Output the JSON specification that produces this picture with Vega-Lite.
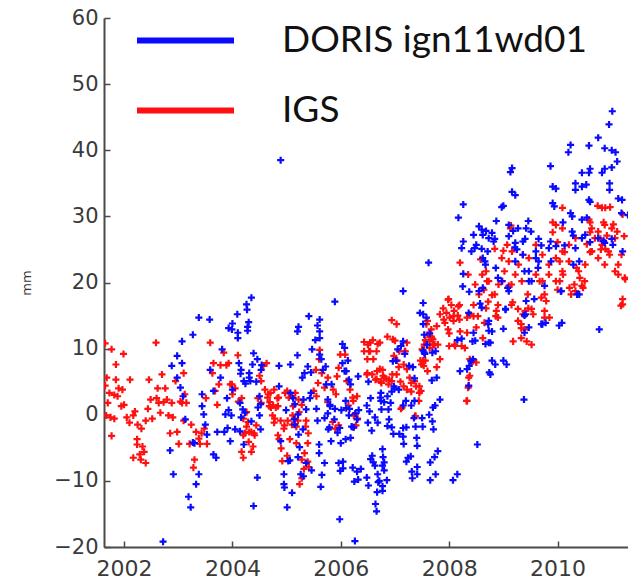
{
  "$schema": "https://vega.github.io/schema/vega-lite/v6.json",
  "width": 524,
  "height": 529,
  "autosize": {"type": "none"},
  "padding": {"left": 104, "top": 18, "right": 0, "bottom": 33},
  "background": "white",
  "config": {
    "view": {"stroke": null},
    "axis": {"grid": false, "domainColor": "#4a4a4a", "domainWidth": 2, "tickColor": "#4a4a4a", "tickWidth": 1.5, "tickSize": -6, "labelFont": "DejaVu Sans", "labelColor": "#3a3a3a"}
  },
  "datasets": {
    "igs": [
      {"year":2001.65,"mm":10.8},{"year":2001.77,"mm":9.9},{"year":2001.99,"mm":9.2},{"year":2001.85,"mm":7.6},{"year":2001.68,"mm":5.6},{"year":2001.85,"mm":5.3},{"year":2002.11,"mm":5.3},{"year":2001.65,"mm":4.4},{"year":2001.9,"mm":4.0},{"year":2001.97,"mm":3.8},{"year":2001.73,"mm":3.3},{"year":2001.82,"mm":3.0},{"year":2001.88,"mm":2.8},{"year":2001.7,"mm":1.8},{"year":2001.67,"mm":-0.1},{"year":2001.75,"mm":-0.4},{"year":2001.82,"mm":-0.6},{"year":2001.77,"mm":-3.2},{"year":2001.95,"mm":1.3},{"year":2002.0,"mm":1.5},
      {"year":2002.05,"mm":-0.4},{"year":2002.1,"mm":-1.2},{"year":2002.17,"mm":-0.1},{"year":2002.2,"mm":0.5},{"year":2002.25,"mm":-1.5},{"year":2002.24,"mm":-3.7},{"year":2002.24,"mm":-4.5},{"year":2002.29,"mm":-6.0},{"year":2002.17,"mm":-6.5},{"year":2002.31,"mm":-6.8},{"year":2002.4,"mm":-7.3},{"year":2002.37,"mm":-5.6},{"year":2002.34,"mm":-4.8},{"year":2002.32,"mm":-2.1},{"year":2002.4,"mm":-0.9},{"year":2002.44,"mm":0.9},{"year":2002.46,"mm":5.3},{"year":2002.49,"mm":2.3},{"year":2002.52,"mm":-0.6},{"year":2002.59,"mm":10.9},
      {"year":2002.6,"mm":2.5},{"year":2002.62,"mm":4.0},{"year":2002.64,"mm":1.8},{"year":2002.67,"mm":0.3},{"year":2002.7,"mm":6.1},{"year":2002.73,"mm":1.9},{"year":2002.76,"mm":4.0},{"year":2002.79,"mm":2.3},{"year":2002.82,"mm":-0.1},{"year":2002.85,"mm":-2.8},{"year":2002.88,"mm":1.8},{"year":2002.9,"mm":-0.4},{"year":2002.95,"mm":5.1},{"year":2002.98,"mm":-2.6},{"year":2003.01,"mm":-4.4},{"year":2003.04,"mm":2.0},{"year":2003.07,"mm":1.8},{"year":2003.1,"mm":-0.9},{"year":2003.1,"mm":6.3},{"year":2003.12,"mm":3.1},
      {"year":2003.15,"mm":1.8},{"year":2003.21,"mm":-4.4},{"year":2003.24,"mm":-1.5},{"year":2003.28,"mm":-8.0},{"year":2003.3,"mm":-6.8},{"year":2003.33,"mm":-2.6},{"year":2003.38,"mm":-3.6},{"year":2003.4,"mm":-4.4},{"year":2003.43,"mm":-2.8},{"year":2003.48,"mm":-2.1},{"year":2003.51,"mm":2.5},{"year":2003.53,"mm":-4.4},{"year":2003.59,"mm":10.9},{"year":2003.63,"mm":6.3},{"year":2003.65,"mm":7.8},{"year":2003.68,"mm":3.6},{"year":2003.72,"mm":1.5},{"year":2003.75,"mm":4.6},{"year":2003.78,"mm":7.5},{"year":2003.84,"mm":9.4},
      {"year":2003.89,"mm":7.5},{"year":2003.93,"mm":7.8},{"year":2003.96,"mm":4.6},{"year":2003.99,"mm":4.6},{"year":2004.0,"mm":3.1},{"year":2004.05,"mm":4.0},{"year":2004.1,"mm":9.0},{"year":2004.11,"mm":2.0},{"year":2004.17,"mm":2.5},{"year":2004.2,"mm":-6.5},{"year":2004.23,"mm":-2.8},{"year":2004.26,"mm":-1.8},{"year":2004.3,"mm":-4.1},{"year":2004.31,"mm":-2.6},{"year":2004.35,"mm":-5.6},{"year":2004.38,"mm":-4.8},{"year":2004.4,"mm":-2.8},{"year":2004.47,"mm":2.5},{"year":2004.53,"mm":1.8},{"year":2004.57,"mm":7.4},
      {"year":2004.63,"mm":7.8},{"year":2004.6,"mm":3.8},{"year":2004.66,"mm":3.1},{"year":2004.68,"mm":1.3},{"year":2004.71,"mm":1.1},{"year":2004.74,"mm":-0.1},{"year":2004.77,"mm":-1.2},{"year":2004.8,"mm":1.1},{"year":2004.83,"mm":2.5},{"year":2004.86,"mm":-3.7},{"year":2004.89,"mm":-0.9},{"year":2004.92,"mm":-7.0},{"year":2004.95,"mm":-2.1},{"year":2004.97,"mm":3.3},{"year":2005.01,"mm":-6.2},{"year":2005.06,"mm":-3.7},{"year":2005.1,"mm":-1.5},{"year":2005.12,"mm":1.3},{"year":2005.15,"mm":-0.6},{"year":2005.18,"mm":-1.8},
      {"year":2005.21,"mm":-0.9},{"year":2005.24,"mm":-10.5},{"year":2005.28,"mm":-6.8},{"year":2005.32,"mm":-8.2},{"year":2005.35,"mm":-1.8},{"year":2005.4,"mm":-2.8},{"year":2004.5,"mm":5.9},{"year":2004.53,"mm":5.1},{"year":2005.61,"mm":9.8},{"year":2005.6,"mm":8.4},{"year":2005.99,"mm":9.1},{"year":2006.08,"mm":9.1},{"year":2005.54,"mm":6.8},{"year":2005.65,"mm":6.3},{"year":2005.76,"mm":5.6},{"year":2005.96,"mm":7.1},{"year":2005.93,"mm":5.8},{"year":2006.11,"mm":5.1},{"year":2006.17,"mm":3.8},{"year":2006.22,"mm":2.6},
      {"year":2006.3,"mm":2.8},{"year":2005.58,"mm":4.8},{"year":2005.7,"mm":4.1},{"year":2005.86,"mm":3.8},{"year":2005.91,"mm":3.1},{"year":2005.5,"mm":3.6},{"year":2005.55,"mm":2.8},{"year":2004.77,"mm":3.8},{"year":2004.65,"mm":2.6},{"year":2004.7,"mm":3.3},{"year":2004.85,"mm":2.6},{"year":2005.01,"mm":3.6},{"year":2005.04,"mm":2.6},{"year":2005.1,"mm":2.8},{"year":2005.16,"mm":3.3},{"year":2005.22,"mm":2.3},{"year":2005.28,"mm":1.5},{"year":2004.17,"mm":-5.6},{"year":2004.41,"mm":-3.1},{"year":2004.35,"mm":-2.6},
      {"year":2004.44,"mm":-1.6},{"year":2004.2,"mm":-0.6},{"year":2004.26,"mm":0.4},{"year":2004.29,"mm":-1.1},{"year":2004.78,"mm":-0.6},{"year":2004.84,"mm":-3.1},{"year":2004.9,"mm":-5.1},{"year":2004.69,"mm":1.9},{"year":2004.75,"mm":1.4},{"year":2004.84,"mm":1.3},{"year":2004.96,"mm":-1.6},{"year":2005.02,"mm":-0.9},{"year":2005.11,"mm":-0.1},{"year":2005.18,"mm":-4.3},{"year":2005.23,"mm":0.4},{"year":2005.36,"mm":-0.9},{"year":2005.39,"mm":-4.3},{"year":2005.33,"mm":-5.8},{"year":2005.39,"mm":-7.1},{"year":2005.41,"mm":-7.9},
      {"year":2005.28,"mm":-9.6},{"year":2005.76,"mm":1.9},{"year":2005.85,"mm":-1.1},{"year":2005.9,"mm":-2.1},{"year":2005.96,"mm":-1.6},{"year":2006.14,"mm":1.4},{"year":2006.24,"mm":-0.1},{"year":2006.31,"mm":-0.6},{"year":2006.28,"mm":-1.6},{"year":2004.2,"mm":-3.1},{"year":2006.94,"mm":14.3},{"year":2006.54,"mm":10.9},{"year":2006.54,"mm":9.6},{"year":2006.66,"mm":9.6},{"year":2006.72,"mm":10.9},{"year":2006.6,"mm":8.4},{"year":2006.48,"mm":6.1},{"year":2006.72,"mm":6.9},{"year":2006.78,"mm":5.9},{"year":2006.66,"mm":5.4},
      {"year":2006.84,"mm":5.4},{"year":2006.94,"mm":5.1},{"year":2006.75,"mm":4.8},{"year":2006.88,"mm":4.6},{"year":2006.96,"mm":11.4},{"year":2007.08,"mm":9.6},{"year":2007.18,"mm":9.6},{"year":2007.16,"mm":7.6},{"year":2007.22,"mm":6.9},{"year":2007.03,"mm":6.1},{"year":2007.27,"mm":5.6},{"year":2007.36,"mm":5.1},{"year":2007.16,"mm":4.3},{"year":2007.45,"mm":4.3},{"year":2007.3,"mm":3.5},{"year":2007.45,"mm":3.3},{"year":2007.37,"mm":-0.2},{"year":2007.11,"mm":0.9},{"year":2007.6,"mm":14.2},{"year":2007.6,"mm":12.1},
      {"year":2007.67,"mm":11.8},{"year":2007.56,"mm":11.3},{"year":2007.52,"mm":8.2},{"year":2007.49,"mm":7.6},{"year":2007.64,"mm":10.1},{"year":2007.72,"mm":10.6},{"year":2007.83,"mm":15.2},{"year":2007.99,"mm":17.5},{"year":2007.9,"mm":14.4},{"year":2008.01,"mm":14.7},{"year":2008.08,"mm":14.9},{"year":2008.0,"mm":12.3},{"year":2008.11,"mm":10.4},{"year":2008.29,"mm":10.1},{"year":2008.2,"mm":12.6},{"year":2008.17,"mm":16.4},{"year":2008.45,"mm":16.6},{"year":2008.39,"mm":15.1},{"year":2008.53,"mm":14.9},{"year":2008.55,"mm":18.2},
      {"year":2008.68,"mm":16.1},{"year":2008.62,"mm":11.6},{"year":2008.36,"mm":5.6},{"year":2008.36,"mm":4.3},{"year":2008.33,"mm":2.1},{"year":2008.42,"mm":8.1},{"year":2008.86,"mm":14.9},{"year":2008.9,"mm":16.6},{"year":2008.84,"mm":18.2},{"year":2009.15,"mm":16.6},{"year":2009.18,"mm":11.1},{"year":2009.27,"mm":14.2},{"year":2009.33,"mm":13.1},{"year":2009.4,"mm":15.7},{"year":2009.43,"mm":11.1},{"year":2009.46,"mm":16.1},{"year":2009.76,"mm":14.7},{"year":2009.7,"mm":17.7},{"year":2011.2,"mm":16.7},{"year":2010.33,"mm":18.7},
      {"year":2008.2,"mm":23.0},{"year":2008.58,"mm":23.5},{"year":2008.68,"mm":21.7},{"year":2008.7,"mm":20.2},{"year":2008.64,"mm":18.9},{"year":2008.79,"mm":18.1},{"year":2008.72,"mm":17.1},{"year":2007.98,"mm":17.4},{"year":2008.04,"mm":16.6},{"year":2008.19,"mm":16.6},{"year":2007.89,"mm":16.1},{"year":2007.95,"mm":15.4},{"year":2008.09,"mm":15.7},{"year":2008.16,"mm":15.0},{"year":2008.08,"mm":14.2},{"year":2008.19,"mm":14.4},{"year":2007.92,"mm":13.9},{"year":2007.77,"mm":13.4},{"year":2007.98,"mm":12.9},{"year":2008.33,"mm":14.7},
      {"year":2008.45,"mm":14.9},{"year":2008.5,"mm":13.2},{"year":2008.65,"mm":13.9},{"year":2008.33,"mm":12.4},{"year":2007.03,"mm":13.7},{"year":2007.58,"mm":13.7},{"year":2007.67,"mm":12.9},{"year":2007.7,"mm":11.4},{"year":2007.7,"mm":10.6},{"year":2007.54,"mm":10.6},{"year":2007.79,"mm":10.6},{"year":2007.0,"mm":11.2},{"year":2006.68,"mm":10.7},{"year":2006.5,"mm":10.6},{"year":2006.43,"mm":11.0},{"year":2006.59,"mm":11.3},{"year":2006.86,"mm":11.8},{"year":2006.43,"mm":9.6},{"year":2006.52,"mm":9.6},{"year":2006.49,"mm":8.4},
      {"year":2006.49,"mm":6.3},{"year":2006.58,"mm":6.1},{"year":2006.67,"mm":6.6},{"year":2006.77,"mm":6.8},{"year":2006.8,"mm":5.6},{"year":2006.89,"mm":5.3},{"year":2006.95,"mm":6.1},{"year":2006.74,"mm":5.0},{"year":2006.64,"mm":5.3},{"year":2006.98,"mm":8.9},{"year":2007.04,"mm":8.2},{"year":2007.07,"mm":7.2},{"year":2007.1,"mm":5.0},{"year":2007.19,"mm":9.6},{"year":2007.22,"mm":10.9},{"year":2007.5,"mm":9.9},{"year":2007.47,"mm":8.2},{"year":2007.53,"mm":7.4},{"year":2007.6,"mm":6.6},{"year":2007.56,"mm":8.2},
      {"year":2007.68,"mm":11.6},{"year":2007.64,"mm":11.1},{"year":2007.73,"mm":10.6},{"year":2007.83,"mm":8.4},{"year":2007.77,"mm":7.2},{"year":2007.3,"mm":4.8},{"year":2007.39,"mm":4.3},{"year":2007.48,"mm":3.6},{"year":2007.22,"mm":3.8},{"year":2007.44,"mm":2.1},{"year":2007.13,"mm":1.1},{"year":2007.38,"mm":-0.2},{"year":2008.0,"mm":10.4},{"year":2008.1,"mm":10.6},{"year":2008.23,"mm":10.4},{"year":2008.38,"mm":8.4},{"year":2008.44,"mm":8.1},{"year":2008.5,"mm":7.9},{"year":2008.38,"mm":5.9},{"year":2008.35,"mm":4.1},
      {"year":2008.32,"mm":2.1},{"year":2006.23,"mm":2.1},{"year":2006.26,"mm":0.1},{"year":2006.23,"mm":-1.9},{"year":2010.09,"mm":31.3},{"year":2010.82,"mm":31.3},{"year":2010.97,"mm":31.4},{"year":2011.2,"mm":30.3},{"year":2010.09,"mm":28.2},{"year":2009.97,"mm":28.7},{"year":2010.58,"mm":29.5},{"year":2010.63,"mm":28.2},{"year":2010.75,"mm":27.7},{"year":2010.87,"mm":28.7},{"year":2011.0,"mm":28.2},{"year":2011.1,"mm":27.7},{"year":2011.23,"mm":27.0},{"year":2010.69,"mm":26.7},{"year":2010.82,"mm":25.7},{"year":2010.94,"mm":24.7},
      {"year":2011.06,"mm":26.7},{"year":2011.18,"mm":24.2},{"year":2010.75,"mm":23.7},{"year":2010.87,"mm":22.7},{"year":2011.06,"mm":21.7},{"year":2011.24,"mm":20.7},{"year":2009.13,"mm":28.2},{"year":2009.07,"mm":25.7},{"year":2009.16,"mm":24.7},{"year":2009.28,"mm":22.7},{"year":2009.36,"mm":24.2},{"year":2009.1,"mm":23.2},{"year":2008.97,"mm":23.7},{"year":2009.47,"mm":23.7},{"year":2009.6,"mm":25.7},{"year":2009.72,"mm":24.2},{"year":2009.84,"mm":22.7},{"year":2009.97,"mm":23.7},{"year":2010.09,"mm":24.7},{"year":2010.21,"mm":25.7},
      {"year":2010.33,"mm":26.7},{"year":2010.21,"mm":23.2},{"year":2010.39,"mm":21.7},{"year":2010.09,"mm":21.7},{"year":2009.97,"mm":20.2},{"year":2010.51,"mm":22.7},{"year":2010.63,"mm":24.7},{"year":2009.22,"mm":21.2},{"year":2009.34,"mm":20.2},{"year":2009.6,"mm":21.2},{"year":2009.72,"mm":20.2},{"year":2009.84,"mm":21.2},{"year":2008.61,"mm":21.2},{"year":2008.73,"mm":20.2},{"year":2008.91,"mm":19.7},{"year":2008.35,"mm":21.2},{"year":2008.48,"mm":19.7},{"year":2009.1,"mm":19.5},{"year":2010.45,"mm":19.5},{"year":2009.02,"mm":21.7},
      {"year":2008.98,"mm":20.2},{"year":2008.87,"mm":15.7},{"year":2008.9,"mm":14.7},{"year":2009.15,"mm":19.7},{"year":2009.17,"mm":17.0},{"year":2009.27,"mm":16.0},{"year":2009.36,"mm":15.2},{"year":2009.33,"mm":13.7},{"year":2009.39,"mm":12.9},{"year":2009.33,"mm":11.6},{"year":2009.52,"mm":10.6},{"year":2009.52,"mm":16.0},{"year":2009.55,"mm":15.2},{"year":2009.45,"mm":18.2},{"year":2009.67,"mm":20.2},{"year":2009.76,"mm":18.2},{"year":2009.79,"mm":17.2},{"year":2009.85,"mm":14.7},{"year":2009.76,"mm":15.7},{"year":2010.0,"mm":18.9},
      {"year":2010.04,"mm":20.2},{"year":2010.1,"mm":21.2},{"year":2010.22,"mm":19.2},{"year":2010.25,"mm":18.2},{"year":2010.31,"mm":19.7},{"year":2010.41,"mm":20.7},{"year":2010.47,"mm":19.2},{"year":2010.5,"mm":20.2},{"year":2010.35,"mm":22.2},{"year":2010.04,"mm":23.2},{"year":2010.63,"mm":24.7},{"year":2010.8,"mm":25.0},{"year":2010.96,"mm":24.2},{"year":2011.12,"mm":22.7},{"year":2011.12,"mm":21.2},{"year":2011.2,"mm":17.5},{"year":2011.17,"mm":16.5},{"year":2011.25,"mm":20.5},{"year":2009.14,"mm":28.6},{"year":2009.91,"mm":29.1},
      {"year":2010.6,"mm":29.1},{"year":2010.85,"mm":29.1},{"year":2011.03,"mm":28.8},{"year":2009.91,"mm":27.6},{"year":2010.6,"mm":27.6},{"year":2010.79,"mm":26.6},{"year":2010.91,"mm":27.1},{"year":2008.84,"mm":25.1},{"year":2009.0,"mm":24.8},{"year":2010.0,"mm":26.1},{"year":2010.13,"mm":24.6},{"year":2010.54,"mm":25.8},{"year":2010.6,"mm":24.6},{"year":2010.88,"mm":25.1},{"year":2010.74,"mm":31.6},{"year":2010.88,"mm":31.3}
    ],
    "doris": [
      {"year":2002.72,"mm":-19.2},{"year":2002.85,"mm":-5.4},{"year":2002.91,"mm":-9.0},{"year":2002.88,"mm":7.4},{"year":2002.98,"mm":8.9},{"year":2003.07,"mm":11.1},{"year":2003.07,"mm":7.8},{"year":2002.98,"mm":5.6},{"year":2003.04,"mm":4.1},{"year":2003.09,"mm":2.8},{"year":2003.13,"mm":-0.7},{"year":2003.19,"mm":-12.4},{"year":2003.23,"mm":-14.0},{"year":2003.27,"mm":12.1},{"year":2003.27,"mm":-4.2},{"year":2003.3,"mm":-4.3},{"year":2003.33,"mm":-10.5},{"year":2003.38,"mm":-9.0},{"year":2003.38,"mm":14.7},{"year":2003.44,"mm":3.1},
      {"year":2003.44,"mm":1.3},{"year":2003.47,"mm":0.05},{"year":2003.5,"mm":-1.5},{"year":2003.53,"mm":-3.0},{"year":2003.58,"mm":14.4},{"year":2003.59,"mm":6.8},{"year":2003.65,"mm":3.6},{"year":2003.65,"mm":-6.0},{"year":2003.7,"mm":-6.5},{"year":2003.72,"mm":-2.6},{"year":2003.78,"mm":5.6},{"year":2003.81,"mm":9.9},{"year":2003.85,"mm":-2.6},{"year":2003.87,"mm":0.05},{"year":2003.9,"mm":2.5},{"year":2003.93,"mm":0.7},{"year":2003.93,"mm":13.1},{"year":2003.99,"mm":12.9},{"year":2003.96,"mm":-4.0},{"year":2004.0,"mm":3.8},
      {"year":2004.09,"mm":15.2},{"year":2004.1,"mm":11.6},{"year":2004.05,"mm":-2.2},{"year":2004.15,"mm":6.2},{"year":2004.16,"mm":6.8},{"year":2004.21,"mm":-4.5},{"year":2004.23,"mm":0.3},{"year":2004.24,"mm":4.7},{"year":2004.27,"mm":15.9},{"year":2004.28,"mm":12.7},{"year":2004.3,"mm":14.0},{"year":2004.31,"mm":5.6},{"year":2004.35,"mm":17.7},{"year":2004.35,"mm":-1.0},{"year":2004.39,"mm":-13.8},{"year":2004.46,"mm":8.4},{"year":2004.46,"mm":-9.5},{"year":2004.44,"mm":5.0},{"year":2004.52,"mm":1.6},{"year":2004.52,"mm":-2.2},
      {"year":2004.54,"mm":7.5},{"year":2004.86,"mm":7.4},{"year":2004.89,"mm":-4.0},{"year":2004.95,"mm":-9.0},{"year":2004.95,"mm":-10.5},{"year":2004.96,"mm":-11.0},{"year":2005.01,"mm":-14.0},{"year":2005.03,"mm":-7.0},{"year":2005.1,"mm":-11.8},{"year":2005.12,"mm":2.5},{"year":2005.14,"mm":-0.7},{"year":2005.2,"mm":12.6},{"year":2005.2,"mm":9.0},{"year":2005.21,"mm":0.05},{"year":2005.24,"mm":-4.9},{"year":2005.26,"mm":-9.0},{"year":2005.29,"mm":5.6},{"year":2005.3,"mm":-2.2},{"year":2005.41,"mm":14.9},{"year":2005.43,"mm":2.5},
      {"year":2005.45,"mm":6.4},{"year":2005.47,"mm":9.9},{"year":2004.89,"mm":38.5},{"year":2005.89,"mm":17.1},{"year":2005.61,"mm":14.4},{"year":2005.61,"mm":12.6},{"year":2005.61,"mm":11.6},{"year":2005.64,"mm":8.4},{"year":2005.67,"mm":6.8},{"year":2005.73,"mm":4.6},{"year":2005.8,"mm":1.3},{"year":2005.88,"mm":-0.7},{"year":2005.77,"mm":-2.2},{"year":2005.94,"mm":-2.7},{"year":2005.82,"mm":-4.0},{"year":2006.0,"mm":-4.3},{"year":2006.09,"mm":-3.7},{"year":2006.18,"mm":-3.5},{"year":2005.57,"mm":-0.9},{"year":2005.6,"mm":-4.5},
      {"year":2005.7,"mm":-7.3},{"year":2005.65,"mm":-9.1},{"year":2005.63,"mm":-10.9},{"year":2005.96,"mm":-7.3},{"year":2005.99,"mm":-8.5},{"year":2005.98,"mm":-15.8},{"year":2006.26,"mm":-19.1},{"year":2006.07,"mm":10.1},{"year":2006.13,"mm":8.2},{"year":2006.07,"mm":6.6},{"year":2006.15,"mm":5.3},{"year":2006.18,"mm":4.6},{"year":2006.15,"mm":-0.1},{"year":2006.27,"mm":0.2},{"year":2006.3,"mm":-0.7},{"year":2006.24,"mm":-1.9},{"year":2006.3,"mm":-8.6},{"year":2006.25,"mm":-10.1},{"year":2006.51,"mm":5.0},{"year":2006.48,"mm":1.4},
      {"year":2006.57,"mm":-2.4},{"year":2006.63,"mm":-0.4},{"year":2006.6,"mm":-7.2},{"year":2006.63,"mm":-7.7},{"year":2006.51,"mm":-10.7},{"year":2006.69,"mm":-10.2},{"year":2006.67,"mm":-11.7},{"year":2006.77,"mm":-11.5},{"year":2006.78,"mm":-6.4},{"year":2006.8,"mm":-8.4},{"year":2006.85,"mm":-9.9},{"year":2006.66,"mm":-14.6},{"year":2006.73,"mm":2.6},{"year":2006.75,"mm":0.8},{"year":2006.88,"mm":0.8},{"year":2006.8,"mm":1.9},{"year":2006.94,"mm":3.5},{"year":2006.96,"mm":8.1},{"year":2006.99,"mm":4.0},{"year":2007.15,"mm":18.7},
      {"year":2007.15,"mm":11.1},{"year":2007.18,"mm":9.2},{"year":2006.94,"mm":-1.9},{"year":2006.97,"mm":-2.9},{"year":2007.08,"mm":-2.9},{"year":2007.16,"mm":-4.4},{"year":2007.21,"mm":-1.9},{"year":2007.26,"mm":7.4},{"year":2007.15,"mm":1.4},{"year":2007.3,"mm":1.4},{"year":2007.21,"mm":-7.1},{"year":2007.29,"mm":-6.3},{"year":2007.31,"mm":-8.6},{"year":2007.32,"mm":-9.6},{"year":2007.41,"mm":-4.7},{"year":2007.46,"mm":15.4},{"year":2007.52,"mm":9.7},{"year":2007.38,"mm":-1.8},{"year":2007.51,"mm":-1.8},{"year":2007.54,"mm":12.1},
      {"year":2007.52,"mm":16.9},{"year":2007.63,"mm":0.0},{"year":2007.65,"mm":-7.2},{"year":2007.65,"mm":-9.9},{"year":2007.71,"mm":-2.2},{"year":2007.74,"mm":1.4},{"year":2007.73,"mm":-6.4},{"year":2007.68,"mm":5.2},{"year":2007.55,"mm":9.2},{"year":2007.59,"mm":10.6},{"year":2008.07,"mm":-9.9},{"year":2008.2,"mm":6.6},{"year":2008.36,"mm":15.4},{"year":2008.45,"mm":12.4},{"year":2008.33,"mm":6.9},{"year":2008.36,"mm":4.4},{"year":2008.44,"mm":8.4},{"year":2008.52,"mm":-4.5},{"year":2008.55,"mm":18.7},{"year":2008.73,"mm":14.2},
      {"year":2008.73,"mm":10.9},{"year":2008.76,"mm":6.1},{"year":2008.85,"mm":7.6},{"year":2008.79,"mm":12.6},{"year":2009.06,"mm":7.6},{"year":2009.04,"mm":15.9},{"year":2009.1,"mm":18.7},{"year":2009.38,"mm":2.3},{"year":2009.47,"mm":13.2},{"year":2009.41,"mm":15.2},{"year":2009.57,"mm":17.5},{"year":2009.72,"mm":13.7},{"year":2009.78,"mm":13.9},{"year":2010.08,"mm":13.9},{"year":2010.07,"mm":18.7},{"year":2010.4,"mm":18.2},{"year":2010.77,"mm":12.9},{"year":2011.01,"mm":45.9},{"year":2010.95,"mm":43.9},{"year":2010.24,"mm":40.8},
      {"year":2010.2,"mm":39.7},{"year":2010.58,"mm":40.7},{"year":2010.75,"mm":41.9},{"year":2010.87,"mm":40.3},{"year":2011.0,"mm":40.0},{"year":2011.07,"mm":39.7},{"year":2011.1,"mm":38.3},{"year":2009.87,"mm":37.6},{"year":2009.16,"mm":37.3},{"year":2009.13,"mm":36.7},{"year":2009.16,"mm":33.7},{"year":2009.22,"mm":33.2},{"year":2009.91,"mm":34.5},{"year":2009.97,"mm":34.2},{"year":2010.33,"mm":35.0},{"year":2010.45,"mm":36.6},{"year":2010.58,"mm":36.6},{"year":2010.82,"mm":36.6},{"year":2010.87,"mm":37.2},{"year":2010.96,"mm":35.0},
      {"year":2010.33,"mm":34.0},{"year":2010.45,"mm":34.5},{"year":2010.58,"mm":32.5},{"year":2010.96,"mm":34.0},{"year":2011.12,"mm":32.7},{"year":2009.91,"mm":32.0},{"year":2009.94,"mm":31.5},{"year":2010.27,"mm":30.0},{"year":2010.45,"mm":29.5},{"year":2008.26,"mm":31.8},{"year":2008.17,"mm":29.8},{"year":2008.55,"mm":28.5},{"year":2008.6,"mm":28.0},{"year":2008.97,"mm":31.4},{"year":2009.1,"mm":28.7},{"year":2009.27,"mm":28.2},{"year":2009.42,"mm":28.2},{"year":2009.51,"mm":27.7},{"year":2008.79,"mm":27.5},{"year":2008.82,"mm":26.2},
      {"year":2009.1,"mm":27.0},{"year":2008.5,"mm":25.7},{"year":2008.6,"mm":25.1},{"year":2008.26,"mm":26.2},{"year":2008.23,"mm":25.2},{"year":2008.41,"mm":24.7},{"year":2008.73,"mm":26.7},{"year":2008.71,"mm":24.7},{"year":2009.22,"mm":26.0},{"year":2009.36,"mm":26.2},{"year":2009.25,"mm":25.0},{"year":2009.6,"mm":24.7},{"year":2009.84,"mm":25.2},{"year":2009.87,"mm":26.2},{"year":2009.97,"mm":25.5},{"year":2010.27,"mm":27.7},{"year":2010.45,"mm":26.7},{"year":2010.33,"mm":25.2},{"year":2010.75,"mm":26.7},{"year":2010.87,"mm":26.0},
      {"year":2011.02,"mm":25.7},{"year":2011.2,"mm":24.7},{"year":2007.62,"mm":23.0},{"year":2008.26,"mm":21.3},{"year":2008.67,"mm":22.7},{"year":2009.22,"mm":23.2},{"year":2009.65,"mm":23.2},{"year":2009.47,"mm":21.7},{"year":2010.4,"mm":23.2},{"year":2008.86,"mm":22.2},{"year":2008.97,"mm":20.2},{"year":2009.47,"mm":20.2},{"year":2009.0,"mm":31.6},{"year":2010.6,"mm":37.2},{"year":2011.0,"mm":37.4},{"year":2010.53,"mm":34.8},{"year":2010.6,"mm":32.2},{"year":2011.19,"mm":32.5},{"year":2008.68,"mm":27.8},{"year":2008.87,"mm":29.3},
      {"year":2009.18,"mm":27.8},{"year":2009.46,"mm":29.3},{"year":2009.4,"mm":26.6},{"year":2010.24,"mm":30.5},{"year":2010.54,"mm":29.8},{"year":2010.1,"mm":29.1},{"year":2011.18,"mm":30.5},{"year":2011.3,"mm":30.2},{"year":2008.84,"mm":26.6},{"year":2009.65,"mm":26.6},{"year":2010.29,"mm":27.1},{"year":2010.51,"mm":27.2},{"year":2010.6,"mm":26.1},{"year":2010.85,"mm":26.3},{"year":2011.0,"mm":26.6},{"year":2009.21,"mm":25.3},{"year":2009.7,"mm":25.6},{"year":2010.13,"mm":25.6},{"year":2009.36,"mm":24.2},{"year":2009.6,"mm":23.7},
      {"year":2009.88,"mm":23.2},{"year":2010.29,"mm":22.7},{"year":2009.39,"mm":21.7},{"year":2009.64,"mm":22.2},{"year":2008.9,"mm":20.7},{"year":2009.08,"mm":19.2},{"year":2009.52,"mm":20.2},{"year":2009.76,"mm":19.5},{"year":2010.06,"mm":18.7},{"year":2010.36,"mm":18.2},{"year":2009.42,"mm":17.2},{"year":2009.04,"mm":16.0},{"year":2009.39,"mm":15.0},{"year":2008.73,"mm":12.7},{"year":2009.0,"mm":13.0},{"year":2009.39,"mm":12.4},{"year":2009.7,"mm":13.7},{"year":2010.03,"mm":13.5},{"year":2008.79,"mm":8.2},{"year":2009.0,"mm":8.2},
      {"year":2008.76,"mm":10.9},{"year":2004.26,"mm":16.7},{"year":2004.28,"mm":13.3},{"year":2004.0,"mm":13.8},{"year":2004.1,"mm":12.4},{"year":2005.22,"mm":13.3},{"year":2005.57,"mm":13.5},{"year":2005.53,"mm":11.3},{"year":2006.03,"mm":10.7},{"year":2004.39,"mm":9.3},{"year":2005.61,"mm":9.1},{"year":2005.07,"mm":7.6},{"year":2004.12,"mm":7.8},{"year":2004.37,"mm":7.6},{"year":2004.53,"mm":6.8},{"year":2004.31,"mm":6.3},{"year":2005.39,"mm":7.3},{"year":2005.33,"mm":6.3},{"year":2005.72,"mm":7.3},{"year":2006.03,"mm":7.8},
      {"year":2006.1,"mm":6.6},{"year":2004.21,"mm":5.1},{"year":2004.33,"mm":5.1},{"year":2004.86,"mm":4.3},{"year":2005.45,"mm":3.3},{"year":2005.83,"mm":4.6},{"year":2006.32,"mm":5.8},{"year":2005.07,"mm":3.3},{"year":2005.76,"mm":2.3},{"year":2004.5,"mm":2.8},{"year":2004.19,"mm":0.8},{"year":2005.36,"mm":0.8},{"year":2006.1,"mm":1.0},{"year":2006.16,"mm":0.9},{"year":2005.8,"mm":1.5},{"year":2005.31,"mm":-9.3},{"year":2006.32,"mm":-9.8},{"year":2006.04,"mm":-8.1},{"year":2006.04,"mm":-7.1},{"year":2006.37,"mm":-8.2},
      {"year":2005.46,"mm":-8.4},{"year":2005.06,"mm":-6.9},{"year":2005.21,"mm":-6.4},{"year":2005.36,"mm":-7.3},{"year":2003.91,"mm":-2.0},{"year":2004.14,"mm":-2.5},{"year":2003.98,"mm":-0.1},{"year":2004.16,"mm":-0.4},{"year":2004.14,"mm":1.8},{"year":2004.47,"mm":1.1},{"year":2004.5,"mm":-0.1},{"year":2004.99,"mm":0.7},{"year":2005.15,"mm":1.6},{"year":2005.31,"mm":2.3},{"year":2005.55,"mm":0.9},{"year":2005.7,"mm":-0.5},{"year":2005.76,"mm":0.2},{"year":2005.89,"mm":0.9},{"year":2006.01,"mm":0.7},{"year":2006.09,"mm":2.1},
      {"year":2006.2,"mm":-1.8},{"year":2005.79,"mm":-1.9},{"year":2005.98,"mm":-2.0},{"year":2006.33,"mm":0.7},{"year":2005.15,"mm":-1.5},{"year":2005.22,"mm":-3.0},{"year":2005.6,"mm":-5.8},{"year":2008.45,"mm":27.2},{"year":2008.62,"mm":27.2},{"year":2008.47,"mm":25.2},{"year":2008.62,"mm":23.7},{"year":2008.66,"mm":23.2},{"year":2008.25,"mm":19.4},{"year":2008.37,"mm":18.6},{"year":2008.62,"mm":19.2},{"year":2007.52,"mm":15.2},{"year":2007.58,"mm":14.7},{"year":2008.57,"mm":16.8},{"year":2008.6,"mm":16.2},{"year":2008.72,"mm":13.7},
      {"year":2007.52,"mm":13.7},{"year":2007.64,"mm":12.3},{"year":2008.23,"mm":11.5},{"year":2008.48,"mm":11.2},{"year":2007.11,"mm":10.4},{"year":2007.54,"mm":9.4},{"year":2007.69,"mm":9.4},{"year":2007.75,"mm":9.6},{"year":2008.15,"mm":11.3},{"year":2008.43,"mm":11.1},{"year":2008.67,"mm":10.7},{"year":2008.4,"mm":8.1},{"year":2008.37,"mm":7.4},{"year":2008.74,"mm":6.4},{"year":2007.02,"mm":8.2},{"year":2007.05,"mm":9.9},{"year":2007.33,"mm":7.2},{"year":2007.36,"mm":5.5},{"year":2006.98,"mm":4.3},{"year":2007.07,"mm":3.8},
      {"year":2007.77,"mm":5.6},{"year":2006.74,"mm":3.3},{"year":2006.86,"mm":2.8},{"year":2006.92,"mm":1.8},{"year":2006.55,"mm":2.5},{"year":2006.74,"mm":2.1},{"year":2007.2,"mm":2.1},{"year":2007.36,"mm":2.1},{"year":2007.83,"mm":2.3},{"year":2007.7,"mm":1.1},{"year":2006.53,"mm":0.5},{"year":2006.5,"mm":-1.2},{"year":2006.68,"mm":-1.2},{"year":2006.86,"mm":-1.7},{"year":2006.89,"mm":-0.7},{"year":2007.35,"mm":-0.5},{"year":2007.5,"mm":-0.5},{"year":2007.69,"mm":-1.0},{"year":2007.15,"mm":-2.0},{"year":2007.4,"mm":-3.5},
      {"year":2007.15,"mm":-3.3},{"year":2006.77,"mm":-5.2},{"year":2006.58,"mm":-6.2},{"year":2006.55,"mm":-6.7},{"year":2007.79,"mm":-5.5},{"year":2007.24,"mm":-6.5},{"year":2006.8,"mm":-7.2},{"year":2006.77,"mm":-7.7},{"year":2007.41,"mm":-7.9},{"year":2007.41,"mm":-9.0},{"year":2007.75,"mm":-9.0},{"year":2008.15,"mm":-9.0},{"year":2006.48,"mm":-9.5},{"year":2006.71,"mm":-10.0},{"year":2006.77,"mm":-10.8},{"year":2006.68,"mm":-9.0},{"year":2006.64,"mm":-13.5},{"year":2006.22,"mm":-8.0}
    ]
  },
  "encoding": {
    "x": {"field": "year", "type": "quantitative", "scale": {"domain": [2001.63, 2011.3], "nice": false, "zero": false},
      "axis": {"values": [2002, 2004, 2006, 2008, 2010], "format": "d", "title": null, "labelFontSize": 22, "labelPadding": 17, "labelFlush": false}},
    "y": {"field": "mm", "type": "quantitative", "scale": {"domain": [-20, 60], "nice": false, "zero": false},
      "axis": {"values": [-20, -10, 0, 10, 20, 30, 40, 50, 60], "title": "mm", "titleFont": "DejaVu Sans", "titleFontSize": 13, "titleFontWeight": "normal", "titleColor": "#333", "titlePadding": 20, "labelFontSize": 21, "labelPadding": 12, "labelFlush": false}}
  },
  "layer": [
    {
      "data": {"name": "igs"},
      "mark": {"type": "point", "shape": "M-1,0H1M0,-1V1", "filled": false, "size": 50, "strokeWidth": 2.2, "opacity": 1, "clip": true},
      "encoding": {"color": {"datum": "IGS", "type": "nominal",
        "scale": {"domain": ["DORIS ign11wd01", "IGS"], "range": ["#0a0aff", "#ff1010"]},
        "legend": {"orient": "none", "legendX": 30, "legendY": -29, "title": null, "symbolType": "stroke", "symbolSize": 9409, "symbolStrokeWidth": 6, "symbolOpacity": 1,
          "labelFont": "Lato", "labelFontSize": 37, "labelLimit": 0, "labelColor": "#111", "labelOffset": 45, "rowPadding": -37,
          "encode": {"symbols": {"update": {"stroke": {"signal": "datum.value === 'IGS' ? '#ff1010' : '#1a66ff'"}}}}}}}
    },
    {
      "data": {"name": "doris"},
      "mark": {"type": "point", "shape": "M-1,0H1M0,-1V1", "filled": false, "size": 50, "strokeWidth": 2.2, "opacity": 1, "clip": true},
      "encoding": {"color": {"datum": "DORIS ign11wd01", "type": "nominal"}}
    }
  ]
}
